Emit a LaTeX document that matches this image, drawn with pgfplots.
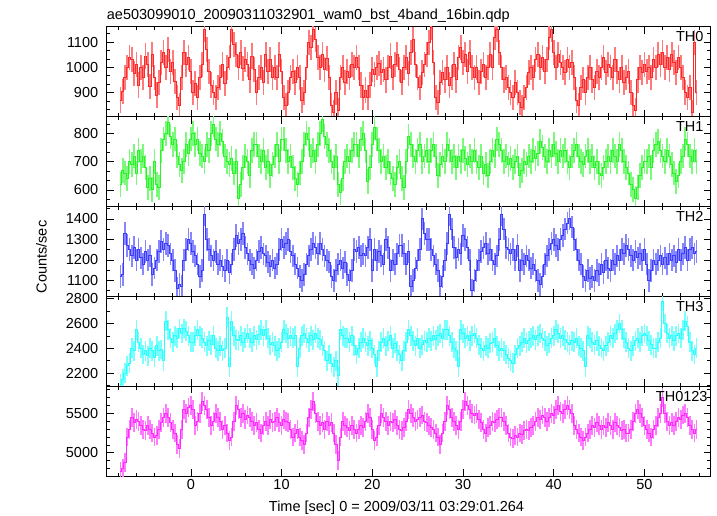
\documentclass[border=0pt]{standalone}
\usepackage{fontspec}
\setmainfont{Liberation Sans}
\usepackage{pgfplots}
\usepackage{pgfplotstable}
\pgfplotsset{compat=1.18}
\definecolor{cR}{RGB}{255,40,40}
\definecolor{cG}{RGB}{40,245,40}
\definecolor{cB}{RGB}{60,60,255}
\definecolor{cC}{RGB}{40,255,255}
\definecolor{cM}{RGB}{255,40,255}
\pgfplotstableread{
t a b c d e
-7.75 870 620 1120 2110 4760
-7.5 905 670 1130 2150 4800
-7.25 960 660 1330 2200 4880
-7 1000 640 1270 2260 5200
-6.75 1040 700 1250 2280 5300
-6.5 1030 690 1220 2400 5450
-6.25 975 720 1260 2380 5380
-6 1010 660 1200 2550 5420
-5.75 930 740 1250 2450 5400
-5.5 1000 700 1210 2400 5350
-5.25 960 720 1180 2350 5300
-5 1045 680 1240 2380 5280
-4.75 1010 610 1200 2340 5350
-4.5 925 640 1220 2400 5300
-4.25 1050 600 1130 2380 5250
-4 960 700 1160 2330 5200
-3.75 890 620 1200 2420 5220
-3.5 940 610 1240 2380 5300
-3.25 1020 740 1290 2390 5380
-3 1060 780 1250 2300 5450
-2.75 1000 800 1280 2620 5500
-2.5 1070 840 1270 2550 5450
-2.25 985 790 1230 2480 5380
-2 1020 760 1200 2450 5300
-1.75 945 780 1150 2500 5250
-1.5 880 720 1060 2480 5100
-1.25 850 690 1080 2560 5050
-1 960 670 1070 2520 5300
-0.75 1060 700 1200 2560 5550
-0.5 1010 760 1250 2540 5500
-0.25 1040 730 1300 2500 5580
0 985 780 1280 2450 5600
0.25 900 800 1240 2450 5550
0.5 935 760 1220 2500 5350
0.75 880 780 1180 2550 5400
1 960 730 1120 2500 5500
1.25 1010 720 1150 2480 5650
1.5 1150 700 1420 2450 5600
1.75 1070 760 1300 2420 5550
2 985 740 1250 2460 5450
2.25 930 800 1220 2430 5350
2.5 900 830 1200 2500 5400
2.75 880 780 1240 2400 5500
3 920 760 1180 2380 5450
3.25 960 800 1200 2420 5400
3.5 1010 770 1170 2380 5300
3.75 935 720 1150 2400 5350
4 1000 700 1200 2650 5250
4.25 1040 690 1140 2250 5150
4.5 1150 710 1180 2620 5200
4.75 1090 660 1250 2500 5400
5 1050 700 1320 2470 5600
5.25 1000 570 1280 2460 5550
5.5 1060 620 1300 2500 5450
5.75 995 680 1330 2450 5500
6 1030 720 1260 2480 5420
6.25 1010 700 1230 2520 5480
6.5 950 650 1200 2480 5450
6.75 1045 740 1180 2450 5400
7 990 760 1160 2500 5350
7.25 900 760 1200 2470 5380
7.5 960 720 1240 2510 5300
7.75 1000 700 1260 2550 5250
8 940 740 1230 2500 5350
8.25 1050 680 1220 2550 5400
8.5 985 700 1190 2480 5350
8.75 1030 650 1170 2430 5420
9 960 690 1200 2450 5380
9.25 1000 720 1160 2420 5400
9.5 960 760 1180 2380 5450
9.75 1050 700 1250 2400 5380
10 985 780 1300 2450 5350
10.25 880 780 1260 2550 5420
10.5 850 740 1280 2520 5400
10.75 900 700 1300 2480 5380
11 960 720 1240 2500 5300
11.25 985 680 1220 2480 5200
11.5 940 640 1180 2500 5250
11.75 1000 620 1160 2250 5300
12 960 660 1120 2400 5200
12.25 870 700 1100 2500 5150
12.5 900 760 1130 2520 5100
12.75 1000 800 1180 2480 5250
13 1100 780 1220 2450 5450
13.25 1080 720 1250 2500 5550
13.5 1150 740 1280 2470 5650
13.75 1110 700 1260 2520 5500
14 1040 760 1230 2480 5400
14.25 1000 800 1280 2470 5350
14.5 1050 850 1250 2420 5380
14.75 990 790 1220 2380 5300
15 1035 760 1200 2300 5400
15.25 960 740 1190 2350 5350
15.5 850 700 1120 2280 5380
15.75 820 680 1100 2250 5250
16 900 720 1150 2300 5100
16.25 830 620 1180 2180 4900
16.5 960 590 1200 2550 5200
16.75 1000 640 1160 2500 5400
17 940 700 1190 2480 5350
17.25 985 720 1130 2480 5320
17.5 960 700 1100 2450 5280
17.75 1010 740 1150 2500 5350
18 1000 760 1250 2420 5300
18.25 1040 760 1240 2350 5250
18.5 1000 720 1260 2400 5300
18.75 930 780 1220 2450 5350
19 880 800 1230 2480 5320
19.25 910 740 1220 2450 5400
19.5 880 630 1260 2420 5500
19.75 930 680 1300 2460 5450
20 990 760 1150 2400 5300
20.25 970 820 1250 2350 5150
20.5 1000 780 1200 2250 5200
20.75 1015 740 1240 2380 5350
21 980 700 1220 2450 5500
21.25 990 720 1180 2480 5450
21.5 950 680 1300 2420 5400
21.75 1000 700 1260 2460 5350
22 1045 660 1150 2500 5400
22.25 960 640 1200 2400 5380
22.5 1010 620 1180 2440 5420
22.75 1050 680 1230 2380 5350
23 990 700 1270 2350 5300
23.25 940 640 1270 2300 5280
23.5 1000 610 1230 2380 5320
23.75 1040 700 1180 2450 5400
24 975 790 1240 2550 5550
24.25 1060 760 1070 2500 5500
24.5 1110 720 1100 2460 5450
24.75 1010 700 1160 2420 5400
25 960 740 1200 2480 5420
25.25 920 760 1250 2400 5450
25.5 980 700 1400 2430 5480
25.75 1010 720 1330 2460 5400
26 1050 740 1300 2450 5380
26.25 1100 700 1300 2480 5350
26.5 1160 740 1250 2460 5320
26.75 1020 760 1220 2500 5300
27 880 720 1180 2470 5250
27.25 860 650 1150 2500 5200
27.5 940 690 1070 2520 5100
27.75 980 720 1120 2480 5250
28 950 700 1200 2550 5400
28.25 1000 760 1280 2550 5600
28.5 930 740 1420 2500 5550
28.75 960 700 1350 2450 5450
29 1010 720 1260 2400 5400
29.25 950 680 1210 2380 5350
29.5 1040 720 1250 2250 5300
29.75 1080 700 1230 2550 5400
30 1020 740 1320 2520 5550
30.25 1050 710 1300 2480 5650
30.5 985 690 1260 2500 5600
30.75 1060 720 1200 2460 5550
31 1000 700 1050 2500 5500
31.25 960 740 1100 2520 5480
31.5 1000 700 1150 2480 5500
31.75 940 680 1200 2430 5420
32 985 720 1240 2400 5380
32.25 1010 660 1260 2380 5300
32.5 960 690 1280 2420 5250
32.75 1000 650 1230 2400 5320
33 1050 700 1250 2440 5350
33.25 1000 740 1200 2450 5400
33.5 1120 720 1180 2480 5380
33.75 1150 780 1220 2420 5420
34 1060 760 1300 2380 5450
34.25 1000 740 1420 2400 5450
34.5 950 700 1350 2380 5400
34.75 960 720 1260 2350 5350
35 920 690 1250 2320 5250
35.25 900 710 1230 2300 5200
35.5 880 680 1250 2280 5180
35.75 940 700 1200 2350 5220
36 900 720 1270 2400 5200
36.25 860 650 1150 2420 5250
36.5 840 670 1200 2450 5230
36.75 880 700 1180 2480 5280
37 920 690 1220 2440 5300
37.25 980 720 1200 2460 5280
37.5 1000 700 1160 2480 5320
37.75 960 740 1180 2500 5350
38 1030 710 1150 2470 5400
38.25 1050 730 1100 2500 5450
38.5 1000 770 1080 2520 5420
38.75 1040 750 1120 2480 5480
39 985 720 1180 2460 5450
39.25 1030 700 1220 2420 5400
39.5 1120 740 1250 2440 5450
39.75 1150 720 1280 2480 5500
40 1060 760 1300 2500 5480
40.25 1000 730 1270 2550 5550
40.5 1050 700 1250 2520 5600
40.75 1020 740 1300 2480 5520
41 1000 720 1320 2500 5500
41.25 980 740 1350 2470 5550
41.5 1030 700 1380 2450 5600
41.75 1000 680 1400 2430 5550
42 1020 720 1360 2460 5500
42.25 960 740 1300 2450 5350
42.5 870 760 1250 2480 5300
42.75 850 720 1200 2420 5250
43 920 700 1180 2400 5200
43.25 950 690 1120 2380 5150
43.5 900 720 1100 2250 5200
43.75 960 740 1150 2500 5250
44 1000 700 1110 2480 5300
44.25 950 720 1120 2450 5350
44.5 920 680 1100 2430 5320
44.75 985 700 1150 2460 5380
45 960 660 1130 2420 5350
45.25 1000 650 1180 2400 5300
45.5 1040 680 1140 2380 5350
45.75 980 700 1200 2420 5320
46 1010 720 1160 2450 5380
46.25 1000 700 1150 2500 5350
46.5 960 740 1200 2480 5300
46.75 1030 720 1180 2520 5380
47 985 700 1220 2550 5350
47.25 950 760 1200 2600 5320
47.5 1000 740 1250 2550 5280
47.75 940 700 1230 2480 5300
48 960 680 1270 2450 5250
48.25 985 660 1250 2400 5250
48.5 900 620 1220 2380 5300
48.75 850 600 1200 2420 5400
49 830 570 1240 2460 5500
49.25 950 610 1210 2480 5550
49.5 1000 650 1230 2450 5500
49.75 980 680 1200 2500 5450
50 1010 700 1250 2520 5350
50.25 985 700 1180 2500 5300
50.5 1000 720 1100 2460 5250
50.75 960 680 1150 2430 5200
51 1030 740 1200 2400 5300
51.25 1000 760 1180 2400 5350
51.5 1050 770 1200 2450 5450
51.75 1010 740 1220 2480 5500
52 1060 720 1180 2780 5700
52.25 1000 700 1210 2600 5500
52.5 1040 740 1180 2520 5400
52.75 990 720 1230 2480 5350
53 1050 690 1200 2500 5380
53.25 1020 660 1220 2460 5350
53.5 980 630 1190 2500 5400
53.75 1040 650 1250 2520 5450
54 1000 700 1200 2480 5420
54.25 960 720 1230 2550 5480
54.5 900 780 1260 2620 5500
54.75 880 760 1200 2580 5450
55 920 720 1250 2450 5350
55.25 820 700 1260 2380 5300
55.5 1100 740 1230 2350 5250
55.75 900 700 1240 2400 5300
}\lcdata

\newcommand{\fs}{\fontsize{14.5bp}{17bp}\selectfont}
\pgfplotsset{
  panel/.style={
    scale only axis, width=604bp, height=89.9bp,
    xmin=-9.27, xmax=57.3,
    xtick={-10,0,...,60}, minor x tick num=4, xticklabels={},
    tick align=inside, major tick length=7bp, minor tick length=3.5bp,
    axis line style={line width=0.8bp, black},
    every tick/.style={black, line width=0.6bp},
    tick label style={font=\fs},
    yticklabel style={xshift=-5bp},
    /pgf/number format/assume math mode=true,
    /pgf/number format/1000 sep={},
    clip=true,
  },
  eb/.style 2 args={draw=none, mark=none,
    error bars/.cd, y dir=both, y fixed=#2, error mark=none,
    error bar style={draw=#1!62!white, line width=1.7bp, solid}},
  ln/.style={const plot mark mid, draw=#1, line width=0.9bp, mark=none},
}
\tikzset{lab/.style={anchor=east, inner sep=0pt, font=\fs, xshift=-7bp, yshift=-10bp}}

\begin{document}
\begin{tikzpicture}
\useasboundingbox (0,0) rectangle (717bp,516bp);
\begin{axis}[panel, at={(106.7bp,399.3bp)}, anchor=south west,
  ymin=804, ymax=1161, ytick={800,900,...,1200}, minor y tick num=2]
\addplot[eb={cR}{50}] table[x=t,y=a]{\lcdata};
\addplot[ln=cR] table[x=t,y=a]{\lcdata};
\node[lab] at (rel axis cs:1,1) {TH0};
\end{axis}
\begin{axis}[panel, at={(106.7bp,309.4bp)}, anchor=south west,
  ymin=541, ymax=859, ytick={500,600,...,900}, minor y tick num=2]
\addplot[eb={cG}{44}] table[x=t,y=b]{\lcdata};
\addplot[ln=cG] table[x=t,y=b]{\lcdata};
\node[lab] at (rel axis cs:1,1) {TH1};
\end{axis}
\begin{axis}[panel, at={(106.7bp,219.5bp)}, anchor=south west,
  ymin=1022, ymax=1460, ytick={1000,1100,...,1500}, minor y tick num=1]
\addplot[eb={cB}{55}] table[x=t,y=c]{\lcdata};
\addplot[ln=cB] table[x=t,y=c]{\lcdata};
\node[lab] at (rel axis cs:1,1) {TH2};
\end{axis}
\begin{axis}[panel, at={(106.7bp,129.6bp)}, anchor=south west,
  ymin=2093, ymax=2818, ytick={2000,2200,...,2800}, minor y tick num=1]
\addplot[eb={cC}{80}] table[x=t,y=d]{\lcdata};
\addplot[ln=cC] table[x=t,y=d]{\lcdata};
\node[lab] at (rel axis cs:1,1) {TH3};
\end{axis}
\begin{axis}[panel, at={(106.7bp,39.7bp)}, anchor=south west,
  ymin=4700, ymax=5843, ytick={4500,5000,5500,6000}, minor y tick num=4,
  xticklabels={,0,10,20,30,40,50}]
\addplot[eb={cM}{120}] table[x=t,y=e]{\lcdata};
\addplot[ln=cM] table[x=t,y=e]{\lcdata};
\node[lab, xshift=4bp] at (rel axis cs:1,1) {TH0123};
\end{axis}
\node[anchor=base west, font=\fs, inner sep=0pt] at (106.7bp,496bp) {ae503099010\_20090311032901\_wam0\_bst\_4band\_16bin.qdp};
\node[anchor=base, font=\fs, inner sep=0pt] at (396.5bp,4.5bp) {Time [sec] 0 = 2009/03/11 03:29:01.264};
\node[anchor=base, rotate=90, font=\fs, inner sep=0pt] at (46.5bp,259bp) {Counts/sec};
\end{tikzpicture}
\end{document}
